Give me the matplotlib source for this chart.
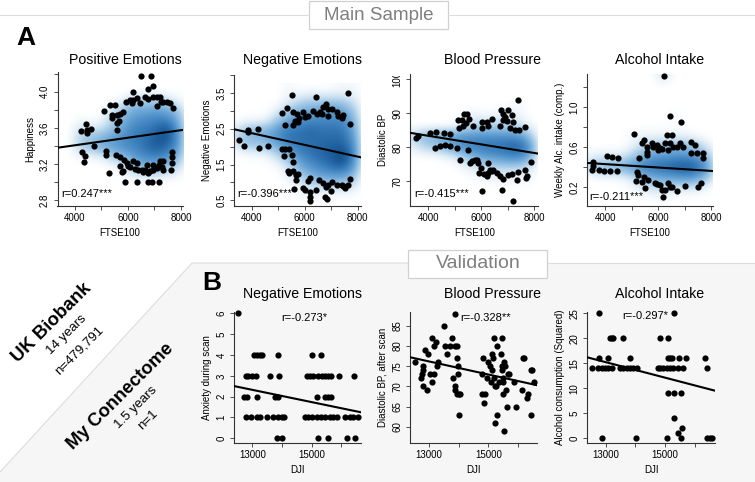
import matplotlib
matplotlib.use('Agg')
import matplotlib.pyplot as plt
from matplotlib.colors import LinearSegmentedColormap
from matplotlib.patches import Polygon, Rectangle
from matplotlib.transforms import Bbox

plt.rcParams['font.family'] = ['Liberation Sans', 'DejaVu Sans']

# ---------- panel A scatter points ----------
a1_x = [4238, 4414, 4476, 4602, 4476, 4263, 4400, 4350, 4727, 5116, 5316, 5517, 5166, 5166, 5280,
        5417, 5392, 5580, 5705, 5830, 5680, 5580, 5580, 5931, 6081, 6207, 6207, 6332, 6144, 6458,
        6495, 6884, 6960, 6771, 6646, 6746, 6960, 7085, 7210, 7085, 7235, 7335, 7460, 7585, 7710,
        5555, 5705, 5856, 5956, 6081, 6207, 6332, 6395, 6520, 6708, 6646, 6771, 6960, 6960, 7210,
        7335, 7185, 7335, 7650, 7650, 7675, 7624, 5705, 5830, 5768, 5906, 6332, 6771, 6897, 7173,
        6000, 6260, 6580, 6830, 7100, 7270]
a1_y = [3.57, 3.64, 3.575, 3.59, 3.54, 3.33, 3.29, 3.22, 3.40, 3.79, 3.85, 3.85, 3.34, 3.30, 3.10,
        3.74, 3.71, 3.74, 3.75, 3.78, 3.67, 3.65, 3.58, 3.89, 3.91, 4.0, 3.91, 3.93, 3.87, 3.87,
        4.17, 4.17, 4.06, 4.03, 3.945, 3.915, 3.945, 3.945, 3.945, 3.84, 3.89, 3.88, 3.88, 3.87, 3.82,
        3.30, 3.28, 3.25, 3.21, 3.17, 3.23, 3.21, 3.13, 3.13, 3.19, 3.13, 3.10, 3.135, 3.19, 3.23,
        3.23, 3.19, 3.135, 3.21, 3.28, 3.33, 3.135, 3.18, 3.12, 3.11, 3.0, 3.0, 3.0, 3.0, 3.0,
        3.18, 3.15, 3.11, 3.12, 3.16, 3.17]

a2_x = [3522, 3723, 3850, 3874, 4226, 4277, 4629, 5258, 5157, 5346, 5510, 6428, 7623, 7711,
        5572, 5698, 5786, 5635, 5572, 5761, 5950, 6013, 6138, 6327, 6453, 6579, 6704, 6805, 6893, 7019,
        6642, 6893, 7208, 7271, 7460, 7397, 5132, 5258, 5421, 5220, 5510, 5547, 5384, 5547, 5421, 5761,
        5673, 5673, 5597, 5950, 6201, 6138, 6201, 6201, 6201, 6428, 6541, 6704, 6767, 6830, 6893, 7019,
        6981, 6805, 7208, 7397, 7523, 7648, 7711, 7460, 6000]
a2_y = [2.19, 2.03, 2.47, 2.42, 2.5, 1.97, 2.03, 2.61, 2.94, 3.08, 3.43, 3.38, 3.5, 2.63,
        2.97, 2.91, 2.81, 2.72, 2.6, 2.69, 2.96, 2.84, 2.86, 3.0, 2.91, 2.96, 3.1, 3.19, 3.05, 3.05,
        2.91, 2.86, 2.96, 2.86, 2.89, 2.81, 1.94, 1.94, 1.92, 1.75, 1.76, 1.56, 1.33, 1.31, 1.26, 1.24,
        1.21, 1.07, 0.82, 0.84, 1.12, 1.03, 0.74, 0.6, 0.48, 0.79, 1.07, 0.98, 0.6, 0.54, 0.93, 1.01,
        0.77, 0.87, 0.93, 0.93, 0.84, 0.93, 1.1, 0.89, 0.8]

a3_x = [3535, 3623, 4063, 4277, 4591, 4818, 4252, 4440, 4629, 4818, 5069, 5510, 5195, 5132, 5283,
        5358, 5447, 5547, 5409, 5321, 5170, 5698, 6013, 6201, 6038, 6264, 6415, 6704, 6742, 7019,
        6830, 7145, 6830, 6956, 7208, 7082, 7271, 7422, 7648, 7371, 7862, 7648, 7711, 7686, 7397,
        7145, 7019, 7334, 6830, 6704, 6579, 6453, 6264, 6201, 6239, 6327, 5887, 5761, 5572, 5824,
        5912, 5987, 6038, 6767, 7183, 5660, 6120, 6390, 6900]
a3_y = [82.7, 83.4, 84.2, 84.4, 84.2, 83.9, 79.9, 80.2, 80.5, 80.2, 79.7, 79.2, 76.3, 88.1, 88.1,
        89.6, 89.6, 88.3, 87.1, 86.3, 85.6, 86.1, 87.3, 87.3, 85.6, 86.1, 88.3, 86.1, 91, 91,
        89.6, 89.4, 88.1, 87.6, 87.3, 85.6, 85.1, 85.1, 85.8, 94, 75.6, 73.3, 71.4, 70.9, 72.6,
        72.2, 71.9, 70.4, 70.6, 71.4, 72.4, 73.3, 72.4, 71.4, 75.3, 73.3, 75.3, 76.3, 75.3, 76.3,
        72.4, 73.8, 67.1, 67.5, 64.3, 75.8, 72.0, 72.9, 89.0]

a4_x = [6218, 6444, 6860, 5096, 6344, 6533, 3521, 3521, 3483, 3761, 3962, 4176, 4428, 4076, 4265, 4466,
        5273, 5373, 5474, 5562, 5562, 5562, 5751, 5940, 6066, 6255, 6444, 6381, 6570, 6822, 6696, 6948,
        7238, 7389, 7238, 7452, 7704, 7704, 5814, 5990, 6150, 5184, 5247, 5147, 5373, 5474, 5625, 5499,
        5877, 6066, 6129, 6192, 6255, 6381, 6507, 6696, 7011, 7515, 7616, 5950, 6440]
a4_y = [1.31, 0.907, 0.847, 0.733, 0.717, 0.717, 0.457, 0.417, 0.373, 0.373, 0.363, 0.363, 0.367, 0.517, 0.507, 0.49,
        0.49, 0.647, 0.673, 0.607, 0.557, 0.523, 0.64, 0.623, 0.59, 0.64, 0.64, 0.573, 0.607, 0.64, 0.607, 0.607,
        0.657, 0.623, 0.54, 0.54, 0.547, 0.49, 0.6, 0.57, 0.58, 0.35, 0.323, 0.267, 0.257, 0.3, 0.273, 0.19,
        0.247, 0.223, 0.173, 0.1, 0.173, 0.24, 0.207, 0.167, 0.213, 0.207, 0.24, 0.23, 0.2]

# ---------- panel A density, estimated by eye on a coarse grid ----------
dens_x = [3400, 3800, 4200, 4600, 5000, 5400, 5800, 6200, 6600, 7000, 7400, 7800, 8200]

a1_dens_y = [4.0, 3.9, 3.8, 3.7, 3.6, 3.5, 3.4, 3.3, 3.2, 3.1, 3.0]
a1_dens = [[0, 0, 0, 0, 0, 0, 0, 0, 0, 0, 0, 0, 0],
           [0, 0, 0, 0, 0, 0, .05, .2, .2, .2, .15, .05, 0],
           [0, 0, 0, 0, 0, .1, .25, .4, .4, .45, .4, .25, 0],
           [0, 0, .02, 0, .03, .2, .35, .5, .55, .6, .6, .4, 0],
           [0, 0, .1, .1, .1, .25, .45, .6, .65, .7, .85, .55, 0],
           [0, 0, .2, .25, .35, .45, .55, .65, .7, .8, .85, .6, 0],
           [0, 0, .2, .3, .4, .45, .55, .6, .7, .8, .75, .55, 0],
           [0, 0, .05, .05, .1, .25, .35, .5, .6, .65, .6, .4, 0],
           [0, 0, 0, 0, 0, .03, .1, .3, .4, .4, .35, .2, 0],
           [0, 0, 0, 0, 0, 0, .02, .1, .15, .15, .1, .05, 0],
           [0, 0, 0, 0, 0, 0, 0, 0, 0, 0, 0, 0, 0]]

a2_dens_y = [3.6, 3.3, 3.0, 2.7, 2.4, 2.1, 1.8, 1.5, 1.2, 0.9, 0.6]
a2_dens = [[0, 0, 0, 0, 0, .03, 0, 0, 0, 0, .03, .03, 0],
           [0, 0, 0, 0, 0, .05, .1, .15, .15, .15, .15, .1, 0],
           [0, 0, 0, 0, .05, .2, .35, .4, .45, .5, .45, .25, 0],
           [0, .02, .02, .05, .25, .45, .55, .6, .6, .6, .6, .4, 0],
           [.1, .3, .35, .4, .55, .7, .7, .75, .7, .7, .7, .5, 0],
           [.1, .3, .3, .35, .5, .65, .7, .7, .75, .75, .75, .6, 0],
           [0, .02, .03, .05, .2, .4, .6, .7, .75, .8, .9, .7, 0],
           [0, 0, 0, 0, .03, .15, .4, .55, .65, .75, .85, .6, 0],
           [0, 0, 0, 0, 0, .05, .2, .35, .45, .5, .5, .35, 0],
           [0, 0, 0, 0, 0, 0, .05, .12, .15, .15, .15, .1, 0],
           [0, 0, 0, 0, 0, 0, 0, .03, 0, 0, 0, 0, 0]]

a3_dens_y = [92, 89, 86, 83, 80, 77, 74, 71, 68]
a3_dens = [[0, 0, 0, 0, 0, 0, 0, 0, 0, 0, .03, 0, 0],
           [0, 0, 0, 0, 0, .03, .05, .03, .05, .1, .05, 0, 0],
           [0, 0, 0, 0, 0, .1, .2, .2, .2, .2, .15, .05, 0],
           [.15, .3, .4, .45, .5, .55, .55, .55, .55, .55, .55, .3, 0],
           [.05, .15, .2, .3, .45, .6, .65, .7, .7, .75, .8, .6, 0],
           [0, 0, 0, .02, .05, .2, .35, .45, .5, .55, .6, .4, 0],
           [0, 0, 0, 0, 0, .03, .08, .12, .15, .15, .15, .1, 0],
           [0, 0, 0, 0, 0, 0, .02, .03, .05, .05, .05, .03, 0],
           [0, 0, 0, 0, 0, 0, 0, 0, 0, 0, 0, 0, 0]]

a4_dens_y = [1.3, 1.2, 1.1, 1.0, 0.9, 0.8, 0.7, 0.6, 0.5, 0.4, 0.3, 0.2, 0.1]
a4_dens = [[0, 0, 0, 0, 0, 0, 0, .12, 0, 0, 0, 0, 0],
           [0, 0, 0, 0, 0, 0, 0, 0, 0, 0, 0, 0, 0],
           [0, 0, 0, 0, 0, 0, 0, 0, 0, 0, 0, 0, 0],
           [0, 0, 0, 0, 0, 0, 0, 0, 0, 0, 0, 0, 0],
           [0, 0, 0, 0, 0, 0, 0, 0, .03, 0, 0, 0, 0],
           [0, 0, 0, 0, 0, 0, 0, 0, 0, 0, 0, 0, 0],
           [0, 0, 0, 0, .03, .05, .05, .05, .07, .05, .03, 0, 0],
           [0, 0, 0, 0, .03, .15, .25, .25, .3, .3, .25, .1, 0],
           [.05, .08, .08, .08, .2, .35, .5, .5, .55, .55, .5, .3, 0],
           [.15, .3, .35, .4, .5, .65, .7, .75, .8, .85, .8, .55, 0],
           [0, .02, .02, .03, .1, .3, .4, .45, .5, .55, .5, .3, 0],
           [0, 0, 0, 0, .02, .08, .15, .15, .1, .1, .1, .03, 0],
           [0, 0, 0, 0, 0, 0, 0, .03, 0, 0, 0, 0, 0]]

# ---------- panel B scatter points ----------
b1_x = [12528,
        13056, 13169, 13259, 13337, 13877, 15022, 15304,
        12775, 12865, 12978, 13112, 13596, 13899, 14832, 14944, 15057, 15225, 15338, 15450, 15562, 15641, 15922, 16428,
        12730, 12809, 13157, 13764, 13877, 15192, 15450, 15562, 15652,
        12786, 12944, 13146, 13259, 13506, 13708, 13877, 13989, 14068, 14776, 14888, 15022, 15169, 15304, 15450, 15619,
        15731, 15866, 16125, 16293, 16406, 16552,
        13820, 13989, 15203, 15540, 16181, 16462]
b1_y = [6] + [4] * 7 + [3] * 16 + [2] * 9 + [1] * 22 + [0] * 6

b2_x = [12528, 12809, 12786, 12764, 12741, 12809, 12865, 12955, 12944, 13034, 13180, 13090, 13112, 13225, 13180, 13259,
        13315, 13506, 13540, 13596, 13708, 13787, 13877, 13933, 13877, 13820, 13877, 13888, 13933, 14012, 14045, 13955,
        13967, 13989, 14023, 14776, 14832, 14776, 14888, 14855, 14944, 15001, 15057, 15113, 15091, 15136, 15169, 15203,
        15225, 15259, 15304, 15304, 15225, 15203, 15417, 15450, 15450, 15473, 15540, 15563, 15507, 15507, 15360, 15529,
        15507, 15596, 15619, 15653, 15709, 15855, 15922, 16147, 16158, 16203, 16293, 16350, 16428, 16439, 16484, 16540]
b2_y = [76, 75, 74, 73, 72, 70, 79, 78, 69, 73, 73, 71, 82, 81, 80, 75,
        76, 85, 80, 78, 80, 82, 80, 80, 88, 72, 70, 69, 68, 68, 68, 77,
        75, 73, 63, 73, 77, 68, 68, 66, 72, 76, 75, 74, 71, 78, 77, 82,
        70, 70, 80, 63, 61, 72, 78, 82, 75, 74, 76, 75, 72, 71, 71, 59,
        68, 69, 65, 73, 73, 71, 65, 69, 77, 77, 67, 68, 63, 74, 74, 71]

b3_x = [12528, 12753, 12865, 12978, 13090, 13202, 13483, 13596, 13708, 13820, 13933, 14045, 14753, 14832, 14944, 15057,
        15169, 15281, 15450, 15619, 16428,
        12775, 15304,
        12786, 13090, 13820, 15090, 15169, 15225, 15484, 15698, 16349,
        13146, 13202, 13258, 13596, 14832, 15090,
        15113, 15304, 15529, 15304, 15563, 15450,
        12876, 14023, 15057, 15529, 16428, 16518, 16574]
b3_y = [14] * 21 + [25] * 2 + [16] * 9 + [20] * 6 + [9, 9, 9, 4, 2, 1] + [0] * 7

# ---------- fit lines, value at left and right end of each axis ----------
a1_fit = [3.38, 3.577]
a2_fit = [2.485, 1.70]
a3_fit = [84.2, 78.1]
a4_fit = [0.443, 0.363]
b1_fit = [2.51, 1.25]
b2_fit = [77.2, 70.3]
b3_fit = [16.2, 9.53]

# ---------- ticks ----------
a_xticks = [4000, 5000, 6000, 7000, 8000]
a_xlabels = ['4000', '', '6000', '', '8000']
b_xticks = [13000, 14000, 15000, 16000]
b_xlabels = ['13000', '', '15000', '']

W, H = 755, 482
fig = plt.figure(figsize=(W / 100, H / 100), dpi=100)

# background layer in pixel coordinates
bg = fig.add_axes([0, 0, 1, 1], zorder=0)
bg.set_xlim(0, W)
bg.set_ylim(H, 0)
bg.axis('off')
bg.add_patch(Polygon([(192, 263), (755, 263), (755, 482), (0, 482), (0, 472)], fc='#f6f6f6', ec='none'))
bg.plot([0, 192, 408], [472, 263, 263], color='#dddddd', lw=0.8)
bg.plot([548, 755], [263, 263], color='#dddddd', lw=0.8)
bg.plot([0, 309], [14.5, 14.5], color='#dddddd', lw=0.8)
bg.plot([448, 755], [14.5, 14.5], color='#dddddd', lw=0.8)
bg.add_patch(Rectangle((309, 0.5), 139, 28, fc='white', ec='#d0d0d0', lw=0.9))
bg.add_patch(Rectangle((408, 249.5), 139, 28.5, fc='white', ec='#d0d0d0', lw=0.9))
bg.text(378.5, 15, 'Main Sample', fontsize=13.5, color='#7f7f7f', ha='center', va='center')
bg.text(478, 264, 'Validation', fontsize=14, color='#7f7f7f', ha='center', va='center')
bg.text(16, 38, 'A', fontsize=19, fontweight='bold', ha='left', va='center')
bg.text(202, 283, 'B', fontsize=19, fontweight='bold', ha='left', va='center')

bg.text(52, 323, 'UK Biobank', fontsize=13.3, fontweight='bold', rotation=45, ha='center', va='center', rotation_mode='anchor')
bg.text(67, 335, '14 years', fontsize=9.5, rotation=45, ha='center', va='center', rotation_mode='anchor')
bg.text(79, 350, 'n=479,791', fontsize=9.5, rotation=45, ha='center', va='center', rotation_mode='anchor')
bg.text(120, 397, 'My Connectome', fontsize=13.3, fontweight='bold', rotation=45, ha='center', va='center', rotation_mode='anchor')
bg.text(136, 408, '1.5 years', fontsize=9.5, rotation=45, ha='center', va='center', rotation_mode='anchor')
bg.text(148, 420, 'n=1', fontsize=9.5, rotation=45, ha='center', va='center', rotation_mode='anchor')

blues = LinearSegmentedColormap.from_list('smooth', ['#ffffff', '#a9cde8', '#6aa5d6', '#3a7fbc', '#14508f'])


def panel(left, right, top, bottom, xlim, ylim, title, title_pos, xlabel, ylabel, x, y, fit,
          xticks, xlabels, yticks, ylabels, note, note_pos, dens=None, dens_y=None):
    ax = fig.add_axes([left / W, 1 - bottom / H, (right - left) / W, (bottom - top) / H], zorder=1)
    ax.patch.set_alpha(0)
    if dens is not None:
        dx = (dens_x[1] - dens_x[0]) / 2
        dy = abs(dens_y[1] - dens_y[0]) / 2
        ax.imshow(dens, cmap=blues, vmin=0, vmax=0.85, aspect='auto', interpolation='bicubic',
                  extent=[dens_x[0] - dx, dens_x[-1] + dx, dens_y[-1] - dy, dens_y[0] + dy], zorder=1)
    ax.scatter(x, y, s=20, color='black', linewidths=0, clip_on=False, zorder=3)
    ax.plot(xlim, fit, color='black', lw=1.5, zorder=4)
    ax.set_xlim(xlim)
    ax.set_ylim(ylim)
    ax.spines['top'].set_visible(False)
    ax.spines['right'].set_visible(False)
    for s in ['left', 'bottom']:
        ax.spines[s].set_color('#333333')
        ax.spines[s].set_linewidth(0.8)
    ax.set_xticks(xticks)
    ax.set_xticklabels(xlabels)
    ax.set_yticks(yticks)
    ax.set_yticklabels(ylabels, rotation=90, va='center')
    ax.tick_params(length=3, width=0.6, labelsize=7, pad=2.5, color='#333333')
    ax.tick_params(axis='x', pad=2.5)
    ax.set_xlabel(xlabel, fontsize=7, labelpad=3.5)
    ax.set_ylabel(ylabel, fontsize=7, labelpad=3.5)
    fig.text(title_pos[0] / W, 1 - title_pos[1] / H, title, fontsize=10.2, ha='center', va='center', zorder=5)
    fig.text(note_pos[0] / W, 1 - note_pos[1] / H, note, fontsize=8, ha='left', va='center', zorder=5)
    return ax


panel(57.5, 182.7, 71.7, 205.7, (3348, 8063), (2.74, 4.22), 'Positive Emotions', (125.7, 60), 'FTSE100', 'Happiness',
      a1_x, a1_y, a1_fit, a_xticks, a_xlabels, [2.8, 3.0, 3.2, 3.4, 3.6, 3.8, 4.0, 4.2],
      ['2.8', '', '3.2', '', '3.6', '', '4.0', ''], 'r=0.247***', (61.7, 194), a1_dens, a1_dens_y)
panel(234, 361, 75, 205.7, (3333, 8126), (0.35, 4.0), 'Negative Emotions', (302.7, 60), 'FTSE100', 'Negative Emotions',
      a2_x, a2_y, a2_fit, a_xticks, a_xlabels, [0.5, 1.0, 1.5, 2.0, 2.5, 3.0, 3.5, 4.0],
      ['0.5', '', '1.5', '', '2.5', '', '3.5', ''], 'r=-0.396***', (237.7, 194), a2_dens, a2_dens_y)
ax3 = panel(410.3, 538.3, 74, 205.7, (3321, 8151), (62.8, 101.5), 'Blood Pressure', (492, 60), 'FTSE100', 'Diastolic BP',
            a3_x, a3_y, a3_fit, a_xticks, a_xlabels, [70, 80, 90, 100],
            ['70', '80', '90', '100'], 'r=-0.415***', (414, 194), a3_dens, a3_dens_y)
panel(587.3, 712.7, 74, 205.7, (3320, 8057), (0.017, 1.33), 'Alcohol Intake', (660, 60), 'FTSE100', 'Weekly Alc. intake (comp.)',
      a4_x, a4_y, a4_fit, a_xticks, a_xlabels, [0.2, 0.4, 0.6, 0.8, 1.0, 1.2],
      ['0.2', '', '0.6', '', '1.0', ''], 'r=-0.211***', (589, 197), a4_dens, a4_dens_y)

panel(234, 361, 311.7, 442.7, (12382, 16664), (-0.21, 6.08), 'Negative Emotions', (302.7, 294), 'DJI', 'Anxiety during scan',
      b1_x, b1_y, b1_fit, b_xticks, b_xlabels, [0, 1, 2, 3, 4, 5, 6],
      ['0', '1', '2', '3', '4', '5', '6'], 'r=-0.273*', (281, 318))
panel(410.3, 536.7, 311.7, 442.7, (12371, 16630), (56.04, 88.5), 'Blood Pressure', (492, 294), 'DJI', 'Diastolic BP, after scan',
      b2_x, b2_y, b2_fit, b_xticks, b_xlabels, [60, 65, 70, 75, 80, 85],
      ['60', '65', '70', '75', '80', '85'], 'r=-0.328**', (460, 318))
panel(587.3, 715, 311.7, 442.7, (12382, 16687), (-0.87, 25.33), 'Alcohol Intake', (660, 294), 'DJI', 'Alcohol consumption (Squared)',
      b3_x, b3_y, b3_fit, b_xticks, b_xlabels, [0, 5, 10, 15, 20, 25],
      ['0', '5', '10', '15', '20', '25'], 'r=-0.297*', (622, 316))

# the top tick label of the blood pressure panel is cut off in the original
fig.canvas.draw()
for lab in ax3.get_yticklabels():
    if lab.get_text() == '100':
        lab.set_clip_on(True)
        lab.set_clip_box(Bbox([[380, H - 200], [410, H - 75.5]]))

fig.savefig('out.png', dpi=100)
